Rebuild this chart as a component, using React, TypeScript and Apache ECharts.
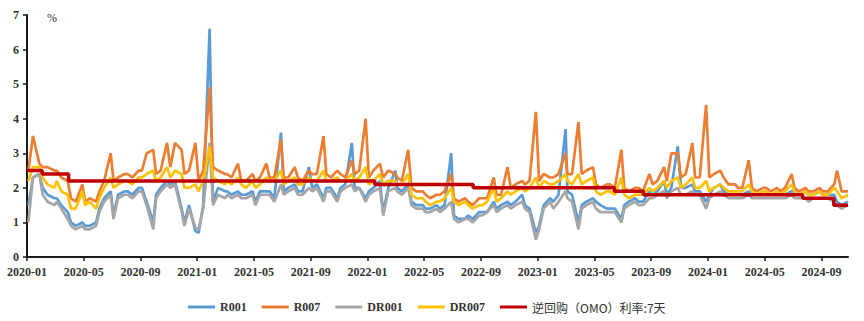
import React, { useEffect, useRef } from "react";
import * as echarts from "echarts";

// ---- data (sampled on days 4, 14, 28 of each month, Jan 2020 – Oct 2024) ----
const sampleDays = [4, 14, 28];
const firstYear = 2020;
const monthCount = 58;

const r001 = [
  1.5, 2.3, 2.4, 2.0, 1.8, 1.7, 1.7, 1.5, 1.3, 1.0, 0.9, 1.0, 0.9, 0.9, 1.0, 1.4, 1.7, 1.9,
  1.2, 1.8, 1.9, 1.9, 1.8, 2.0, 2.0, 1.6, 1.0, 1.8, 2.0, 2.2, 2.1, 2.2, 1.4, 1.0, 1.5, 0.75,
  0.7, 1.5, 6.6, 1.6, 2.0, 1.9, 1.9, 1.8, 1.9, 1.8, 1.8, 1.9, 1.6, 1.9, 1.9, 1.9, 1.7, 3.6,
  1.9, 2.0, 2.1, 1.9, 1.9, 2.6, 2.0, 2.1, 1.7, 2.0, 2.0, 1.7, 2.0, 2.1, 3.3, 2.0, 2.0, 1.7,
  1.9, 2.0, 2.2, 1.3, 2.0, 2.5, 2.0, 1.9, 2.1, 1.6, 1.5, 1.5, 1.4, 1.4, 1.5, 1.4, 1.5, 3.0,
  1.2, 1.1, 1.1, 1.2, 1.1, 1.3, 1.3, 1.3, 1.6, 1.4, 1.5, 1.6, 1.5, 1.6, 1.8, 1.5, 1.4, 0.7,
  0.9, 1.5, 1.7, 1.6, 1.8, 3.7, 1.9, 1.8, 1.0, 1.5, 1.6, 1.7, 1.6, 1.5, 1.4, 1.4, 1.4, 1.1,
  1.5, 1.6, 1.7, 1.6, 1.6, 1.9, 1.8, 1.9, 2.2, 1.8, 2.0, 3.2, 2.0, 2.0, 2.1, 1.9, 1.9, 1.6,
  1.8, 2.0, 2.1, 1.9, 1.8, 1.8, 1.8, 1.8, 1.9, 1.8, 1.8, 1.8, 1.8, 1.8, 1.8, 1.8, 1.8, 1.9,
  1.9, 1.8, 1.9, 1.8, 1.8, 1.9, 1.8, 1.8, 1.8, 1.6, 1.5, 1.6,
];

const r007 = [
  2.5, 3.5, 2.7, 2.6, 2.6, 2.5, 2.5, 2.3, 2.2, 1.7, 1.6, 2.1, 1.6, 1.7, 1.6, 1.9, 2.2, 3.0,
  2.2, 2.3, 2.4, 2.4, 2.3, 2.5, 2.5, 3.0, 3.1, 2.4, 2.5, 3.3, 2.6, 3.3, 3.1, 2.4, 2.5, 3.3,
  2.2, 2.5, 4.9, 2.6, 2.5, 2.4, 2.4, 2.3, 2.7, 2.2, 2.2, 2.4, 2.2, 2.3, 2.7, 2.3, 2.3, 3.4,
  2.3, 2.3, 2.6, 2.3, 2.2, 2.5, 2.4, 2.4, 3.5, 2.4, 2.3, 2.5, 2.4, 2.3, 2.8, 2.4, 2.5, 4.0,
  2.3, 2.5, 2.7, 2.3, 2.5, 2.4, 2.3, 2.2, 3.1, 2.0, 1.9, 1.9, 1.8, 1.7, 1.8, 1.8, 1.9, 2.4,
  1.7, 1.6, 1.7, 1.6, 1.5, 1.7, 1.7, 1.7, 2.3, 1.8, 1.8, 2.6, 2.0, 2.1, 2.2, 2.1, 2.2, 4.2,
  2.2, 2.4, 2.3, 2.3, 2.4, 3.0, 2.4, 2.4, 3.9, 2.4, 2.5, 2.6, 2.1, 2.0, 2.1, 2.1, 2.0, 3.1,
  2.0, 1.9, 2.0, 2.0, 1.9, 2.4, 2.1, 2.2, 2.6, 2.2, 3.0, 3.0, 2.3, 2.4, 3.3, 2.3, 2.3, 4.4,
  2.3, 2.4, 2.5, 2.3, 2.1, 2.1, 2.0, 2.0, 2.8, 2.0, 1.9, 2.0, 2.0, 1.9, 2.0, 1.9, 2.0, 2.4,
  2.0, 1.9, 2.0, 1.9, 1.9, 2.0, 1.9, 1.9, 2.1, 2.5, 1.9, 1.9,
];

const dr001 = [
  1.0, 2.3, 2.4, 1.8, 1.6, 1.5, 1.6, 1.4, 1.1, 0.9, 0.8, 0.9, 0.8, 0.8, 0.9, 1.3, 1.6, 1.8,
  1.1, 1.7, 1.8, 1.8, 1.7, 1.9, 1.9, 1.5, 0.8, 1.7, 1.9, 2.1, 2.0, 2.1, 1.3, 0.9, 1.4, 0.85,
  0.8, 1.4, 3.3, 1.5, 1.8, 1.7, 1.8, 1.7, 1.8, 1.7, 1.7, 1.8, 1.5, 1.8, 1.8, 1.8, 1.6, 2.1,
  1.8, 1.9, 2.0, 1.8, 1.8, 2.0, 1.9, 2.0, 1.6, 1.9, 1.9, 1.6, 1.9, 2.0, 2.1, 1.9, 2.0, 1.6,
  1.8, 1.9, 2.0, 1.2, 1.9, 2.0, 1.9, 1.8, 2.0, 1.5, 1.4, 1.4, 1.3, 1.3, 1.4, 1.3, 1.4, 1.6,
  1.1, 1.0, 1.1, 1.1, 1.0, 1.2, 1.2, 1.3, 1.5, 1.3, 1.4, 1.5, 1.4, 1.5, 1.6, 1.4, 1.3, 0.5,
  0.8, 1.4, 1.6, 1.4, 1.6, 1.9, 1.7, 1.6, 0.8, 1.4, 1.5, 1.6, 1.4, 1.3, 1.3, 1.3, 1.3, 1.0,
  1.4, 1.5, 1.6, 1.5, 1.5, 1.7, 1.7, 1.8, 1.9, 1.7, 1.9, 2.0, 1.8, 1.8, 1.9, 1.8, 1.8, 1.4,
  1.7, 1.8, 1.9, 1.8, 1.7, 1.7, 1.7, 1.7, 1.8, 1.7, 1.7, 1.7, 1.7, 1.7, 1.7, 1.7, 1.7, 1.8,
  1.7, 1.7, 1.7, 1.6, 1.7, 1.7, 1.7, 1.7, 1.6, 1.5, 1.4, 1.5,
];

const dr007 = [
  2.2, 2.6, 2.6, 2.3, 2.1, 2.0, 2.2, 1.9, 1.8, 1.4, 1.4, 1.9, 1.5, 1.6, 1.4, 1.7, 2.0, 2.3,
  2.0, 2.1, 2.2, 2.2, 2.1, 2.3, 2.3, 2.4, 2.5, 2.2, 2.3, 2.6, 2.3, 2.5, 2.4, 2.0, 2.0, 2.1,
  1.9, 2.2, 3.2, 2.3, 2.2, 2.1, 2.2, 2.1, 2.3, 2.1, 2.0, 2.2, 2.0, 2.1, 2.3, 2.2, 2.2, 2.5,
  2.1, 2.2, 2.3, 2.1, 2.1, 2.3, 2.2, 2.2, 2.5, 2.2, 2.2, 2.3, 2.2, 2.2, 2.4, 2.2, 2.3, 2.6,
  2.1, 2.2, 2.4, 2.1, 2.2, 2.2, 2.1, 2.1, 2.4, 1.8, 1.7, 1.7, 1.6, 1.5, 1.6, 1.6, 1.7, 2.0,
  1.6, 1.5, 1.6, 1.5, 1.4, 1.5, 1.5, 1.6, 2.0, 1.6, 1.7, 1.9, 1.8, 1.9, 2.0, 1.9, 2.0, 2.3,
  2.0, 2.2, 2.1, 2.1, 2.2, 2.4, 2.2, 2.1, 2.4, 2.1, 2.2, 2.3, 1.9, 1.8, 1.9, 1.9, 1.8, 2.3,
  1.8, 1.7, 1.8, 1.8, 1.8, 2.0, 1.9, 2.0, 2.2, 2.0, 2.2, 2.3, 2.0, 2.1, 2.3, 2.0, 2.0, 2.2,
  1.9, 2.0, 2.1, 2.0, 1.9, 1.9, 1.9, 1.9, 2.1, 1.9, 1.8, 1.9, 1.9, 1.8, 1.9, 1.8, 1.9, 2.1,
  1.9, 1.8, 1.9, 1.8, 1.8, 1.9, 1.8, 1.8, 2.0, 1.9, 1.7, 1.8,
];

// 7-day reverse repo (OMO) policy rate: effective dates and levels
const omoDates = [
  "2020-01-01", "2020-02-03", "2020-03-30", "2022-01-17", "2022-08-15",
  "2023-06-13", "2023-08-15", "2024-07-22", "2024-09-27", "2024-10-28",
];
const omoRates = [2.5, 2.4, 2.2, 2.1, 2.0, 1.9, 1.8, 1.7, 1.5, 1.5];

const xTickLabels = [
  "2020-01", "2020-05", "2020-09", "2021-01", "2021-05", "2021-09", "2022-01", "2022-05",
  "2022-09", "2023-01", "2023-05", "2023-09", "2024-01", "2024-05", "2024-09",
];
const yTicks = [0, 1, 2, 3, 4, 5, 6, 7];

const seriesNames = ["R001", "R007", "DR001", "DR007", "逆回购（OMO）利率:7天"];
const seriesColors = ["#5B9BD5", "#ED7D31", "#A5A5A5", "#FFC000", "#C00000"];

// ---- helpers ----
const pad = (n: number) => String(n).padStart(2, "0");
const dates: string[] = [];
for (let i = 0; i < monthCount; i++) {
  const y = firstYear + Math.floor(i / 12);
  const mo = (i % 12) + 1;
  for (const d of sampleDays) dates.push(`${y}-${pad(mo)}-${pad(d)}`);
}
function monthPos(s: string): number {
  const [y, m, d] = s.split("-").map(Number);
  const dim = new Date(y, m, 0).getDate();
  return (y - firstYear) * 12 + (m - 1) + (d - 1) / dim;
}
const toPairs = (vals: number[]) => vals.map((v, i) => [monthPos(dates[i]), v]);
const labelForMonth = (v: number) => {
  const r = Math.round(v);
  return `${firstYear + Math.floor(r / 12)}-${pad((r % 12) + 1)}`;
};
const xTickValues = xTickLabels.map((l) => monthPos(l + "-01"));
const xMax = monthPos(dates[dates.length - 1]);

export default function App() {
  const ref = useRef<HTMLDivElement>(null);
  useEffect(() => {
    document.body.style.margin = "0";
    if (!ref.current) return;
    const chart = echarts.init(ref.current, undefined, { renderer: "svg" });
    const serifFont = "'Liberation Serif', 'Times New Roman', serif";
    const lineData = [r001, r007, dr001, dr007];
    const series: any[] = lineData.map((vals, i) => ({
      name: seriesNames[i],
      type: "line",
      data: toPairs(vals),
      showSymbol: false,
      symbol: "none",
      lineStyle: { width: 2.7, color: seriesColors[i] },
      itemStyle: { color: seriesColors[i] },
      emphasis: { disabled: true },
      z: 2 + i,
    }));
    series.push({
      name: seriesNames[4],
      type: "line",
      step: "end",
      data: omoDates.map((d, i) => [monthPos(d), omoRates[i]]),
      showSymbol: false,
      symbol: "none",
      lineStyle: { width: 3.5, color: seriesColors[4] },
      itemStyle: { color: seriesColors[4] },
      emphasis: { disabled: true },
      z: 10,
    });

    chart.setOption({
      animation: false,
      color: seriesColors,
      grid: { left: 27, right: 16, top: 15, bottom: 64, containLabel: false },
      xAxis: {
        type: "value",
        min: 0,
        max: xMax,
        splitLine: { show: false },
        axisLine: { lineStyle: { color: "#1a1a1a", width: 2 } },
        axisTick: { show: true, length: 4, customValues: xTickValues, lineStyle: { color: "#1a1a1a", width: 1.5 } },
        axisLabel: {
          customValues: xTickValues,
          formatter: (v: number) => labelForMonth(v),
          fontFamily: serifFont,
          fontWeight: "bold",
          fontSize: 12,
          color: "#333",
          margin: 9,
        },
      },
      yAxis: {
        type: "value",
        min: yTicks[0],
        max: yTicks[yTicks.length - 1],
        interval: 1,
        splitLine: { show: false },
        axisLine: { show: true, lineStyle: { color: "#1a1a1a", width: 2 } },
        axisTick: { show: true, length: 4, lineStyle: { color: "#1a1a1a", width: 1.5 } },
        axisLabel: {
          fontFamily: serifFont,
          fontWeight: "bold",
          fontSize: 12,
          color: "#333",
          margin: 8,
        },
      },
      legend: {
        data: seriesNames,
        left: 183,
        top: 296,
        icon: "rect",
        itemWidth: 27,
        itemHeight: 3,
        itemGap: 15,
        formatter: (name: string) => (/^[A-Z0-9]+$/.test(name) ? `{a|${name}}` : `{c|${name}}`),
        textStyle: {
          rich: {
            a: { fontFamily: serifFont, fontWeight: "bold", fontSize: 12, color: "#333" },
            c: { fontFamily: "'Noto Sans CJK SC', sans-serif", fontSize: 12, color: "#333" },
          },
        },
      },
      graphic: [
        {
          type: "text",
          left: 47,
          top: 12,
          style: { text: "%", font: `12px ${serifFont}`, fill: "#333" },
        },
      ],
      series,
    });
    return () => chart.dispose();
  }, []);
  return <div ref={ref} style={{ width: 864, height: 321 }} />;
}
